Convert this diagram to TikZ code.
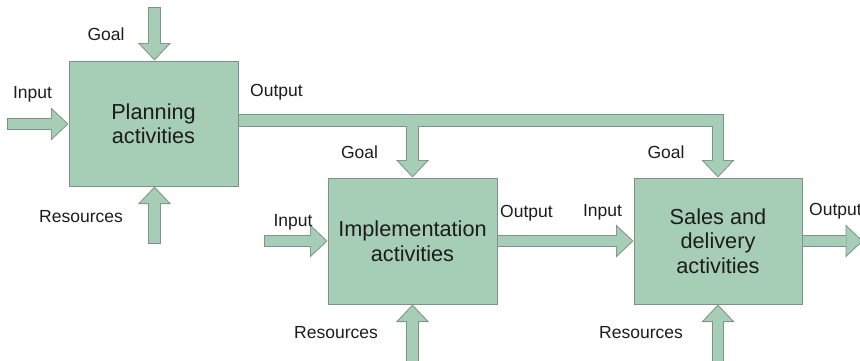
\documentclass[tikz,border=0pt]{standalone}
\usepackage{fontspec}
\setmainfont{Liberation Sans}
\usetikzlibrary{arrows.meta,backgrounds}

\definecolor{boxgreen}{RGB}{166,205,181}
\definecolor{edgegray}{RGB}{128,146,135}
\definecolor{inkdark}{RGB}{28,28,28}

\tikzset{
  stagebox/.style={draw=edgegray, line width=1pt, fill=boxgreen, inner sep=0pt,
    align=center, text=inkdark, font=\fontsize{21.7}{24.5}\selectfont},
  lbl/.style={anchor=base, inner sep=0pt, text=inkdark,
    font=\fontsize{17.5}{20}\selectfont},
  % block arrows are drawn in two passes: a grey outline, then the green body
  flowrim/.style={draw=edgegray, line width=12.5pt,
    -{Triangle[length=17.5pt,width=33pt,line width=0pt]}},
  flowbody/.style={draw=boxgreen, line width=10.5pt,
    shorten >=1.46pt, shorten <=1pt,
    -{Triangle[length=15.05pt,width=28.4pt,line width=0pt]}},
}

\newcommand{\flowpaths}[1]{%
  \draw[#1] (gP) -- (gP |- plan.north);
  \draw[#1] (iP) -- (iP -| plan.west);
  \draw[#1] (rP) -- (rP |- plan.south);
  \draw[#1] (oP) -| (sales.north);
  \draw[#1] (jI) -- (impl.north);
  \draw[#1] (iI) -- (iI -| impl.west);
  \draw[#1] (impl.center) -- (sales.west);
  \draw[#1] (rI) -- (rI |- impl.south);
  \draw[#1] (sales.center) -- (oS);
  \draw[#1] (rS) -- (rS |- sales.south);
}

\begin{document}
\begin{tikzpicture}[x=1pt,y=-1pt]
  \useasboundingbox (0,0) rectangle (860,360);
  \clip (0,0) rectangle (860,360);

  % activity boxes
  \node[stagebox, minimum width=169pt, minimum height=125pt] (plan) at (153.5,123.5) {Planning\\activities};
  \node[stagebox, minimum width=169pt, minimum height=126pt] (impl) at (412.5,241) {Implementation\\activities};
  \node[stagebox, minimum width=168pt, minimum height=126pt] (sales) at (718,241) {Sales and\\delivery\\activities};

  % free ends of the flows
  \coordinate (gP) at (154.5,7);
  \coordinate (iP) at (7,124);
  \coordinate (rP) at (154.5,244);
  \coordinate (oP) at (200,120.5);
  \coordinate (jI) at (412.5,120.5);
  \coordinate (iI) at (264,241);
  \coordinate (rI) at (412.5,366);
  \coordinate (rS) at (718,366);
  \coordinate (oS) at (863,241);

  \begin{scope}[on background layer]
    \flowpaths{flowrim}
    \flowpaths{flowbody}
  \end{scope}

  % flow labels
  \node[lbl] (tGoalP) at (106,40) {Goal};
  \node[lbl] (tInP) at (32.5,98) {Input};
  \node[lbl] (tOutP) at (276.5,96) {Output};
  \node[lbl] (tResP) at (81,222) {Resources};
  \node[lbl] (tGoalI) at (359.5,158) {Goal};
  \node[lbl] (tInI) at (293,226) {Input};
  \node[lbl] (tOutI) at (526.5,217) {Output};
  \node[lbl] (tResI) at (336,338) {Resources};
  \node[lbl] (tGoalS) at (666,158) {Goal};
  \node[lbl] (tInS) at (602.5,216) {Input};
  \node[lbl, anchor=base west] (tOutS) at (809,215) {Output};
  \node[lbl] (tResS) at (641,338) {Resources};
\end{tikzpicture}
\end{document}
